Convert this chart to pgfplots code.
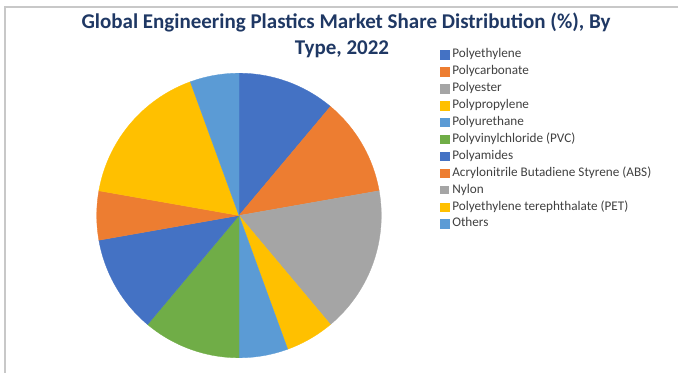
\documentclass[border=0pt]{standalone}
\usepackage{pgfplots}
\pgfplotsset{compat=1.18}
\usepackage{fontspec}
\setmainfont{Carlito}
\definecolor{c1}{HTML}{4472C4}
\definecolor{c2}{HTML}{ED7D31}
\definecolor{c3}{HTML}{A5A5A5}
\definecolor{c4}{HTML}{FFC000}
\definecolor{c5}{HTML}{5B9BD5}
\definecolor{c6}{HTML}{70AD47}
\definecolor{titlec}{HTML}{1F3864}
\definecolor{legc}{HTML}{404040}
\definecolor{framec}{HTML}{C8C8C8}
% slice: #1 start (cumulative %), #2 end (cumulative %), #3 colour
\newcommand\slice[3]{%
  \addplot[fill=#3, draw=#3, line width=0.3bp, domain=#1:#2, samples=60, smooth=false]
    ({239+142.3*sin(3.6*x)}, {165.5+142.3*cos(3.6*x)}) -- (axis cs:239,165.5) -- cycle;}
\begin{document}
\begin{tikzpicture}
\begin{axis}[
  width=688bp, height=381bp, scale only axis,
  xmin=0, xmax=688, ymin=0, ymax=381,
  hide axis, clip=false,
  legend style={at={(axis cs:440,381-47.5)}, anchor=north west, draw=none, fill=none,
    font=\fontsize{13.2bp}{15bp}\selectfont\color{legc}, row sep=2.6bp, inner sep=0pt,
    nodes={inner sep=0.8bp, text height=9.5bp, text depth=3.2bp},
    /tikz/every odd column/.append style={column sep=2.5bp}},
  legend cell align=left,
  legend image code/.code={\fill[#1] (0bp,-4.2bp) rectangle (8.5bp,4.2bp);},
]
% shares (%): 11.11, 11.11, 16.67, 5.56, 5.56, 11.11, 11.11, 5.56, 0, 16.67, 5.56
\slice{0}{11.11}{c1}
\addlegendentry{Polyethylene}
\slice{11.11}{22.22}{c2}
\addlegendentry{Polycarbonate}
\slice{22.22}{38.89}{c3}
\addlegendentry{Polyester}
\slice{38.89}{44.44}{c4}
\addlegendentry{Polypropylene}
\slice{44.44}{50.00}{c5}
\addlegendentry{Polyurethane}
\slice{50.00}{61.11}{c6}
\addlegendentry{Polyvinylchloride (PVC)}
\slice{61.11}{72.22}{c1}
\addlegendentry{Polyamides}
\slice{72.22}{77.78}{c2}
\addlegendentry{Acrylonitrile Butadiene Styrene (ABS)}
\addlegendimage{fill=c3, draw=none}
\addlegendentry{Nylon}
\slice{77.78}{94.44}{c4}
\addlegendentry{Polyethylene terephthalate (PET)}
\slice{94.44}{100}{c5}
\addlegendentry{Others}
\draw[framec, line width=1.5bp] (axis cs:678,374) -- (axis cs:5,374) -- (axis cs:5,8);
\node[font=\bfseries\fontsize{21bp}{25bp}\selectfont, text=titlec, anchor=base] at (axis cs:346,381-28.5) {Global Engineering Plastics Market Share Distribution (\%), By};
\node[font=\bfseries\fontsize{21bp}{25bp}\selectfont, text=titlec, anchor=base] at (axis cs:342,381-55) {Type, 2022};
\coordinate (bl) at (axis cs:0,0);
\coordinate (tr) at (axis cs:688,381);
\end{axis}
\pgfresetboundingbox
\path[use as bounding box] (bl) rectangle (tr);
\end{tikzpicture}
\end{document}
